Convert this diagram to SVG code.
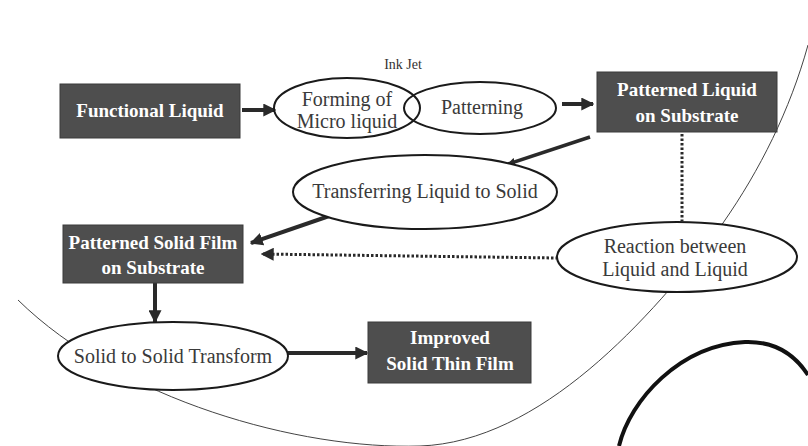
<svg xmlns="http://www.w3.org/2000/svg" width="808" height="446" viewBox="0 0 808 446">
<defs>
<marker id="ah" viewBox="0 0 10 10" refX="9" refY="5" markerWidth="13" markerHeight="13" markerUnits="userSpaceOnUse" orient="auto"><path d="M0,0 L10,5 L0,10 z" fill="#2a2a2a"/></marker>
<marker id="ahs" viewBox="0 0 10 10" refX="9" refY="5" markerWidth="8" markerHeight="8" markerUnits="userSpaceOnUse" orient="auto"><path d="M0,0 L10,5 L0,10 z" fill="#2a2a2a"/></marker>
</defs>
<style>
.box{fill:#4e4e4e;stroke:#3a3a3a;stroke-width:1}
.bt{font-family:"Liberation Serif","Times New Roman",serif;font-weight:bold;font-size:19px;fill:#fff;text-anchor:middle}
.el{fill:#fff;stroke:#1a1a1a;stroke-width:2}
.eln{fill:none;stroke:#1a1a1a;stroke-width:2}
.et{font-family:"Liberation Serif","Times New Roman",serif;font-size:20px;fill:#3a3a3a;text-anchor:middle}
.lbl{font-family:"Liberation Serif","Times New Roman",serif;font-size:14px;fill:#333;text-anchor:middle}
.solid{fill:none;stroke:#2a2a2a;stroke-width:4;marker-end:url(#ah)}
.thin{fill:none;stroke:#2a2a2a;stroke-width:3.5;marker-end:url(#ahs)}
.dot{fill:none;stroke:#2a2a2a;stroke-width:3;stroke-dasharray:2.5 2}
.deco{fill:none;stroke:#444;stroke-width:1}
</style>
<g id="decoration">
<path class="deco" d="M18 300 C120 400 300 450 420 446 C540 442 650 320 723 223 C760 170 790 110 808 45"/>
<path d="M619 446 C630 400 680 345 745 342 C775 341 795 355 808 375" fill="none" stroke="#111" stroke-width="4"/>
</g>
<g id="connectors">
<path class="solid" d="M242 110 L275 110"/>
<path class="solid" d="M562 104 L593 104"/>
<path class="thin" d="M590 137 L508 164"/>
<path class="solid" d="M335 214 L251 243"/>
<path class="dot" d="M682 134 L682 221"/>
<path class="dot" d="M558 258 L262 254" marker-end="url(#ah)"/>
<path class="solid" d="M155 283 L155 322"/>
<path class="solid" d="M288 353 L367 353"/>
</g>
<g id="ink-jet-label"><text class="lbl" x="403" y="69">Ink Jet</text></g>
<g id="functional-liquid"><rect class="box" x="60" y="84" width="180" height="54"/><text class="bt" x="150" y="117">Functional Liquid</text></g>
<g id="forming-micro-liquid"><ellipse class="eln" cx="347" cy="108" rx="73" ry="30"/><text class="et" x="347" y="106">Forming of</text><text class="et" x="347" y="128">Micro liquid</text></g>
<g id="patterning"><ellipse class="eln" cx="480" cy="108" rx="76" ry="26"/><text class="et" x="482" y="114">Patterning</text></g>
<g id="patterned-liquid"><rect class="box" x="597" y="72" width="180" height="60"/><text class="bt" x="687" y="96">Patterned Liquid</text><text class="bt" x="687" y="122">on Substrate</text></g>
<g id="transferring"><ellipse class="el" cx="425" cy="192" rx="132" ry="37"/><text class="et" x="425" y="198">Transferring Liquid to Solid</text></g>
<g id="patterned-solid-film"><rect class="box" x="63" y="225" width="180" height="58"/><text class="bt" x="153" y="249">Patterned Solid Film</text><text class="bt" x="153" y="274">on Substrate</text></g>
<g id="reaction"><ellipse class="el" cx="677" cy="257" rx="120" ry="35"/><text class="et" x="675" y="253">Reaction between</text><text class="et" x="675" y="276">Liquid and Liquid</text></g>
<g id="solid-to-solid"><ellipse class="el" cx="173" cy="356" rx="115" ry="34"/><text class="et" x="173" y="363">Solid to Solid Transform</text></g>
<g id="improved-film"><rect class="box" x="368" y="322" width="163" height="61"/><text class="bt" x="450" y="344">Improved</text><text class="bt" x="450" y="370">Solid Thin Film</text></g>
</svg>
